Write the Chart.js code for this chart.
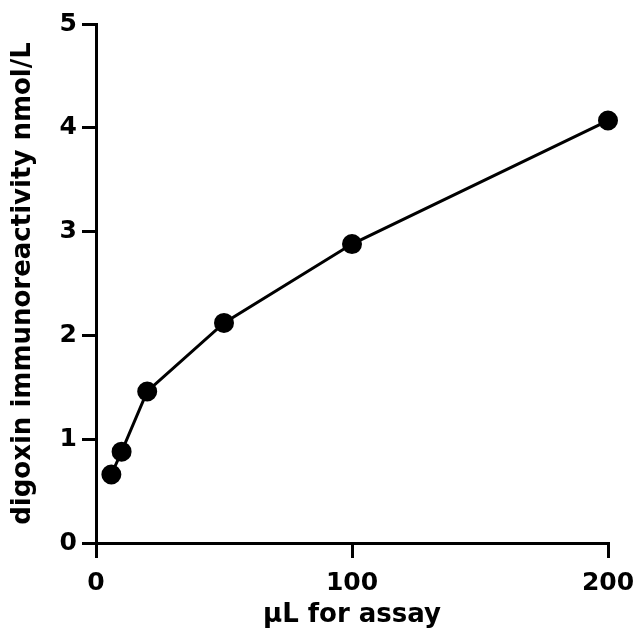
<!DOCTYPE html>
<html>
<head>
<meta charset="utf-8">
<script src="https://cdn.jsdelivr.net/npm/chart.js@4"></script>
<style>
  html, body { margin: 0; padding: 0; background: #fff; }
  #wrap { width: 636px; height: 643px; }
</style>
</head>
<body>
<div id="wrap"><canvas id="assayChart" width="636" height="643"></canvas></div>
<script>
// data
const volumes = [6, 10, 20, 50, 100, 200];          // uL for assay
const digoxin = [0.66, 0.88, 1.46, 2.12, 2.88, 4.07]; // nmol/L
const xTicks = [0, 100, 200];
const yTicks = [0, 1, 2, 3, 4, 5];

const points = volumes.map((v, i) => ({ x: v, y: digoxin[i] }));
const fontFamily = '"DejaVu Sans", Verdana, sans-serif';

const ctx = document.getElementById('assayChart');
new Chart(ctx, {
  type: 'scatter',
  data: {
    datasets: [{
      data: points,
      showLine: true,
      clip: false,
      borderColor: '#000',
      backgroundColor: '#000',
      borderWidth: 3,
      pointRadius: 8.5,
      pointHoverRadius: 8.5,
      tension: 0
    }]
  },
  options: {
    responsive: false,
    animation: false,
    events: [],
    layout: { padding: { top: 24, right: 28, left: 0, bottom: 0 } },
    plugins: { legend: { display: false }, tooltip: { enabled: false } },
    scales: {
      x: {
        type: 'linear',
        min: 0,
        max: 200,
        afterBuildTicks: s => { s.ticks = xTicks.map(v => ({ value: v })); },
        afterFit: s => { s.height = 100; s.paddingRight = 0; s.paddingLeft = 0; },
        border: { display: true, color: '#000', width: 3 },
        grid: { drawOnChartArea: false, drawTicks: true, tickLength: 15, color: '#000', lineWidth: 3 },
        ticks: { color: '#000', padding: 10, maxRotation: 0, font: { family: fontFamily, size: 25, weight: 'bold' } },
        title: {
          display: true,
          text: 'μL for assay',
          color: '#000',
          padding: { top: 0, bottom: 12 },
          font: { family: fontFamily, size: 26, weight: 'bold' }
        }
      },
      y: {
        type: 'linear',
        min: 0,
        max: 5,
        afterBuildTicks: s => { s.ticks = yTicks.map(v => ({ value: v })); },
        afterFit: s => { s.width = 96; },
        border: { display: true, color: '#000', width: 3 },
        grid: { drawOnChartArea: false, drawTicks: true, tickLength: 14, color: '#000', lineWidth: 3 },
        ticks: { color: '#000', padding: 5, font: { family: fontFamily, size: 25, weight: 'bold' } },
        title: {
          display: true,
          text: 'digoxin immunoreactivity nmol/L',
          color: '#000',
          padding: { top: 8, bottom: 0 },
          font: { family: fontFamily, size: 26, weight: 'bold' }
        }
      }
    }
  }
});
</script>
</body>
</html>
